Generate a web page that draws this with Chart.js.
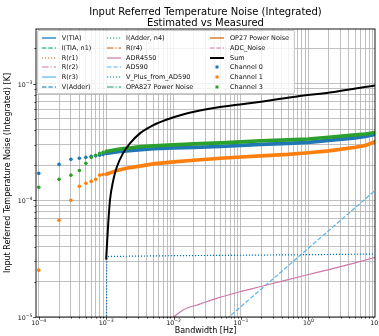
<!DOCTYPE html>
<html>
<head>
<meta charset="utf-8">
<script src="https://cdn.jsdelivr.net/npm/chart.js@4.4.1/dist/chart.umd.min.js"></script>
<style>
  html, body { margin: 0; padding: 0; background: #fff; }
  #wrap { position: relative; width: 379px; height: 336px; }
  #chart { display: block; }
  #legend {
    position: absolute; left: 37px; top: 30px; width: 258px; height: 64px;
    box-sizing: border-box; background: rgba(255,255,255,0.8);
    border: 1px solid #cccccc; border-radius: 2px;
    font-family: "DejaVu Sans"; font-size: 6.5px; color: #111;
  }
  #legend svg { position: absolute; }
  #legend span { position: absolute; white-space: nowrap; line-height: 8px; }
</style>
</head>
<body>
<div id="wrap">
  <canvas id="chart" width="379" height="336"></canvas>
  <div id="legend"></div>
</div>
<script>
/* legend entries, in plotting order */
const componentNames = ['V(TIA)', 'I(TIA, n1)', 'R(r1)', 'R(r2)', 'R(r3)', 'V(Adder)',
    'I(Adder, n4)', 'R(r4)', 'ADR4550', 'AD590', 'V_Plus_from_AD590',
    'OPA827 Power Noise', 'OP27 Power Noise', 'ADC_Noise'];
const channelNames = ['Channel 0', 'Channel 1', 'Channel 3'];

/* estimated curves that reach above 1e-5 K (the rest stay below the axis) */
const adr4550Freq = [1e-2, 1.39e-2, 2.46e-2, 4.36e-2, 9.66e-2, 0.191, 0.424, 0.944, 2.09, 4.64, 10];
const adr4550Noise = [1.0e-5, 1.15e-5, 1.29e-5, 1.445e-5, 1.645e-5, 1.815e-5, 2.04e-5, 2.29e-5, 2.56e-5, 2.88e-5, 3.25e-5];
const ad590Freq = [1e-3, 1e-2, 0.1, 1, 10];
const ad590Noise = [1.23e-6, 3.88e-6, 1.227e-5, 3.88e-5, 1.227e-4];
const vPlusFreq = [1e-3, 1.02e-3, 1.1e-3, 1e-2, 0.1, 1, 10];
const vPlusNoise = [1e-7, 3.1e-5, 3.3e-5, 3.35e-5, 3.38e-5, 3.42e-5, 3.46e-5];
const sumFreq = [1e-3, 1.038e-3, 1.074e-3, 1.139e-3, 1.274e-3, 1.431e-3, 1.775e-3, 2.254e-3, 3.17e-3,
    4.94e-3, 7.98e-3, 1.378e-2, 2.46e-2, 4.41e-2, 9.66e-2, 0.212, 0.677, 2.09, 10];
const sumNoise = [3.1e-5, 4.55e-5, 6.36e-5, 1.0e-4, 1.48e-4, 1.91e-4, 2.52e-4, 3.07e-4, 3.74e-4,
    4.38e-4, 4.92e-4, 5.43e-4, 5.87e-4, 6.23e-4, 6.62e-4, 7.02e-4, 7.74e-4, 8.38e-4, 9.65e-4];

/* measured channels: separate points below 1 mHz, then a dense band */
const sparseFreq = [1e-4, 2e-4, 3e-4, 4e-4, 5e-4, 6e-4, 7e-4, 8e-4, 9e-4];
const bandFreq = [1e-3, 1.5e-3, 2e-3, 3e-3, 5e-3, 1e-2, 2e-2, 5e-2, 0.1, 0.2, 0.5, 1, 2, 5, 7, 10];
const ch0Sparse = [1.70e-4, 2.03e-4, 2.24e-4, 2.29e-4, 2.33e-4, 2.38e-4, 2.40e-4, 2.43e-4, 2.46e-4];
const ch0Band = [2.52e-4, 2.60e-4, 2.65e-4, 2.70e-4, 2.76e-4, 2.81e-4, 2.84e-4, 2.89e-4, 2.95e-4,
    3.01e-4, 3.07e-4, 3.13e-4, 3.26e-4, 3.42e-4, 3.52e-4, 3.67e-4];
const ch1Sparse = [2.52e-5, 6.75e-5, 1.0e-4, 1.32e-4, 1.40e-4, 1.45e-4, 1.51e-4, 1.64e-4, 1.66e-4];
const ch1Band = [1.67e-4, 1.81e-4, 1.88e-4, 1.95e-4, 2.05e-4, 2.13e-4, 2.20e-4, 2.29e-4, 2.35e-4,
    2.40e-4, 2.47e-4, 2.55e-4, 2.65e-4, 2.84e-4, 2.95e-4, 3.19e-4];
const ch3Sparse = [1.29e-4, 1.51e-4, 1.64e-4, 1.80e-4, 2.07e-4, 2.33e-4, 2.43e-4, 2.52e-4, 2.57e-4];
const ch3Band = [2.62e-4, 2.73e-4, 2.78e-4, 2.87e-4, 2.92e-4, 2.98e-4, 3.04e-4, 3.10e-4, 3.16e-4,
    3.23e-4, 3.29e-4, 3.35e-4, 3.46e-4, 3.63e-4, 3.70e-4, 3.81e-4];

/* tick labels (powers of ten) */
const xTickExps = [-4, -3, -2, -1, 0, 1];
const yTickExps = [-5, -4, -3];

/* styles */
const cycleColors = ['#0072B2', '#009E73', '#D55E00', '#CC79A7', '#56B4E9'];
const cycleDashes = [[], [3.7, 1.6], [1, 1.5], [5.5, 1.6, 1, 1.6]];
const channelColors = ['#1f77b4', '#ff7f0e', '#2ca02c'];
const FONT = '"DejaVu Sans"';

const curves = {
    'ADR4550': [adr4550Freq, adr4550Noise],
    'AD590': [ad590Freq, ad590Noise],
    'V_Plus_from_AD590': [vPlusFreq, vPlusNoise],
};

function points(freq, values) {
    return freq.map((f, i) => ({ x: f, y: values[i] }));
}

const datasets = componentNames.map((name, i) => {
    const c = curves[name];
    return {
        label: name,
        data: c ? points(c[0], c[1]) : [],
        borderColor: cycleColors[i % 5],
        backgroundColor: cycleColors[i % 5],
        borderWidth: 1.2,
        borderDash: cycleDashes[i % 4].map(d => d * 1.2),
        pointRadius: 0,
        cubicInterpolationMode: 'monotone',
        order: 0,
    };
});

datasets.push({
    label: 'Sum',
    data: points(sumFreq, sumNoise),
    borderColor: '#000',
    backgroundColor: '#000',
    borderWidth: 2,
    pointRadius: 0,
    cubicInterpolationMode: 'monotone',
    order: -1,
});

const channelSeries = [[ch0Sparse, ch0Band], [ch1Sparse, ch1Band], [ch3Sparse, ch3Band]];
channelNames.forEach((name, i) => {
    const [sp, band] = channelSeries[i];
    datasets.push({
        label: name,
        isChannel: true,
        data: points(sparseFreq, sp).concat(points(bandFreq, band)),
        borderColor: channelColors[i],
        backgroundColor: channelColors[i],
        borderWidth: 3.6,
        pointRadius: ctx => (ctx.dataIndex <= sparseFreq.length ? 1.8 : 0),
        pointBorderWidth: 0,
        pointBackgroundColor: channelColors[i],
        segment: {
            borderColor: ctx => (ctx.p0DataIndex < sparseFreq.length ? 'rgba(0,0,0,0)' : undefined),
        },
        order: 3 - i,
    });
});

function isPow10(v) {
    const l = Math.log10(v);
    return Math.abs(l - Math.round(l)) < 1e-9;
}

function logTicks(scale) {
    const ticks = [];
    for (let e = -6; e <= 1; e++) {
        for (let k = 1; k <= 9; k++) {
            const v = k * Math.pow(10, e);
            if (v >= scale.min * 0.9999 && v <= scale.max * 1.0001) ticks.push({ value: v });
        }
    }
    scale.ticks = ticks;
}

function powLabel(ctx, exp, x, baseline, align) {
    const base = '10';
    const sup = (exp < 0 ? '\u2212' : '') + Math.abs(exp);
    ctx.font = '6.3px ' + FONT;
    const wb = ctx.measureText(base).width;
    ctx.font = '4.6px ' + FONT;
    const ws = ctx.measureText(sup).width;
    const x0 = align === 'center' ? x - (wb + ws) / 2 : x - (wb + ws);
    ctx.textAlign = 'left';
    ctx.textBaseline = 'alphabetic';
    ctx.font = '6.3px ' + FONT;
    ctx.fillText(base, x0, baseline);
    ctx.font = '4.6px ' + FONT;
    ctx.fillText(sup, x0 + wb, baseline - 2.9);
}

const framePlugin = {
    id: 'frame',
    afterDraw(chart) {
        const { ctx, chartArea: a, scales: { x, y } } = chart;
        ctx.save();
        ctx.strokeStyle = '#000';
        ctx.lineWidth = 0.9;
        ctx.strokeRect(a.left, a.top, a.right - a.left, a.bottom - a.top);

        // tick marks
        ctx.lineWidth = 0.7;
        ctx.beginPath();
        x.ticks.forEach(t => {
            const px = Math.round(x.getPixelForValue(t.value)) + 0.5;
            const len = isPow10(t.value) ? 2.8 : 1.6;
            ctx.moveTo(px, a.bottom);
            ctx.lineTo(px, a.bottom + len);
        });
        y.ticks.forEach(t => {
            const py = Math.round(y.getPixelForValue(t.value)) + 0.5;
            const len = isPow10(t.value) ? 2.8 : 1.6;
            ctx.moveTo(a.left, py);
            ctx.lineTo(a.left - len, py);
        });
        ctx.stroke();

        // tick labels
        ctx.fillStyle = '#111';
        xTickExps.forEach(e => {
            powLabel(ctx, e, x.getPixelForValue(Math.pow(10, e)), 324.6, 'center');
        });
        yTickExps.forEach(e => {
            powLabel(ctx, e, a.left - 3.5, y.getPixelForValue(Math.pow(10, e)) + 3.1, 'right');
        });

        // title
        ctx.fillStyle = '#000';
        ctx.font = '10px ' + FONT;
        ctx.textAlign = 'center';
        ctx.textBaseline = 'middle';
        const cx = (a.left + a.right) / 2;
        ctx.fillText('Input Referred Temperature Noise (Integrated)', cx, 12);
        ctx.fillText('Estimated vs Measured', cx, 23.5);
        ctx.restore();
    },
};

const gridStyle = { color: '#b0b0b0', lineWidth: 0.8, drawTicks: false };

const chart = new Chart(document.getElementById('chart'), {
    type: 'line',
    data: { datasets: datasets },
    options: {
        responsive: false,
        animation: false,
        events: [],
        layout: { padding: { top: 29, right: 4, left: 0, bottom: 0 } },
        plugins: {
            legend: { display: false },
            tooltip: { enabled: false },
            title: { display: false },
        },
        scales: {
            x: {
                type: 'logarithmic',
                min: 9.1e-5,
                max: 9.75,
                afterBuildTicks: logTicks,
                afterFit: s => { s.height = 19; s.paddingLeft = 0; s.paddingRight = 0; },
                grid: gridStyle,
                border: { display: false },
                ticks: { display: false },
                title: {
                    display: true,
                    text: 'Bandwidth [Hz]',
                    color: '#000',
                    font: { family: FONT, size: 8 },
                    padding: 0,
                },
            },
            y: {
                type: 'logarithmic',
                min: 1e-5,
                max: 2.93e-3,
                afterBuildTicks: logTicks,
                afterFit: s => { s.width = 36; s.paddingTop = 0; s.paddingBottom = 0; },
                grid: gridStyle,
                border: { display: false },
                ticks: { display: false },
                title: {
                    display: true,
                    text: 'Input Referred Temperature Noise (Integrated) [K]',
                    color: '#000',
                    font: { family: FONT, size: 8 },
                    padding: { top: 3.4, bottom: 0 },
                },
            },
        },
    },
    plugins: [framePlugin],
});

// legend in three columns, six rows, like the original figure
function buildLegend(chart) {
    const box = document.getElementById('legend');
    const handleX = [3.7, 69, 172];
    const textX = [23.7, 88, 192];
    chart.data.datasets.forEach((ds, i) => {
        const col = Math.floor(i / 6);
        const row = i % 6;
        const cy = 6.7 + row * 9.9;
        let inner;
        if (ds.isChannel) {
            inner = `<rect x="5.5" y="1.5" width="3" height="3" fill="${ds.backgroundColor}"/>`;
        } else {
            const dash = ds.borderDash && ds.borderDash.length ? ` stroke-dasharray="${ds.borderDash.join(',')}"` : '';
            inner = `<line x1="0" y1="3" x2="14" y2="3" stroke="${ds.borderColor}" stroke-width="${ds.borderWidth}"${dash}/>`;
        }
        box.insertAdjacentHTML('beforeend',
            `<svg width="14" height="6" style="left:${handleX[col]}px;top:${cy - 3}px">${inner}</svg>` +
            `<span style="left:${textX[col]}px;top:${cy - 4}px">${ds.label}</span>`);
    });
}
buildLegend(chart);
</script>
</body>
</html>
